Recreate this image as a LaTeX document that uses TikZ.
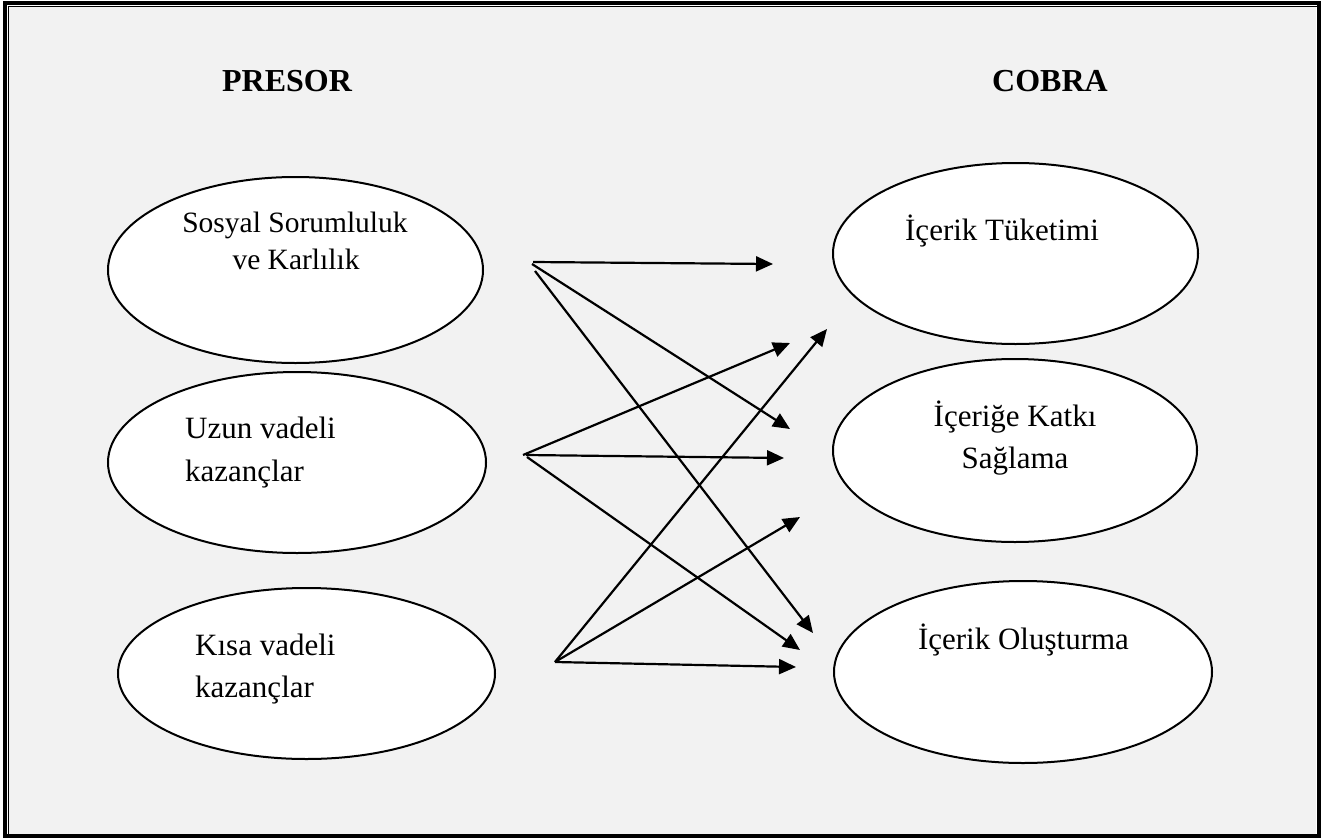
\documentclass[tikz,border=0pt]{standalone}
\usepackage{fontspec}
\setmainfont{Liberation Serif}
\usetikzlibrary{shapes.geometric,arrows.meta}
\definecolor{panelgray}{HTML}{F2F2F2}
\tikzset{
  oval/.style={ellipse,draw=black,line width=2pt,fill=white,inner sep=0pt},
  txt/.style={inner sep=0pt,font=\fontsize{31}{36}\selectfont},
  txtsmall/.style={inner sep=0pt,font=\fontsize{29.5}{34}\selectfont},
  ttl/.style={inner sep=0pt,font=\fontsize{32}{38}\selectfont\bfseries},
  conn/.style={line width=2.2pt,-{Triangle[length=17pt,width=15pt]}}
}
\begin{document}
\begin{tikzpicture}[x=1pt,y=-1pt]
\useasboundingbox (0,0) rectangle (1339,838);
% frame
\fill[white] (0,0) rectangle (1339,838);
\fill[panelgray] (9,7) rectangle (1316,834);
\draw[line width=3.4pt] (5,1.3) -- (5,837.8);
\draw[line width=3.4pt] (3.3,3) -- (1320.5,3);
\draw[line width=4pt] (1318.5,1.3) -- (1318.5,837.8);
\draw[line width=3.4pt] (3.3,836) -- (1320.5,836);
\draw[line width=1.5pt] (8.3,6) -- (8.3,834.3);
\draw[line width=1.5pt] (7.6,6.3) -- (1316.5,6.3);
% titles
\node[ttl,anchor=base] (presor) at (287,91) {PRESOR};
\node[ttl,anchor=base] (cobra) at (1050,91) {COBRA};
% ellipses
\node[oval,minimum width=375pt,minimum height=186pt] (L1) at (295.5,270) {};
\node[oval,minimum width=378pt,minimum height=181pt] (L2) at (297,462.5) {};
\node[oval,minimum width=377pt,minimum height=171pt] (L3) at (306.5,673.5) {};
\node[oval,minimum width=365pt,minimum height=181pt] (R1) at (1015.5,253.5) {};
\node[oval,minimum width=364pt,minimum height=183pt] (R2) at (1015,450.5) {};
\node[oval,minimum width=378pt,minimum height=182pt] (R3) at (1023,672) {};
% texts
\node[txtsmall,anchor=base] (l1a) at (295,232) {Sosyal Sorumluluk};
\node[txtsmall,anchor=base] (l1b) at (296,269) {ve Karlılık};
\node[txt,anchor=base west] (l2a) at (185,438) {Uzun vadeli};
\node[txt,anchor=base west] (l2b) at (185,481) {kazançlar};
\node[txt,anchor=base west] (l3a) at (195,655) {Kısa vadeli};
\node[txt,anchor=base west] (l3b) at (195,697) {kazançlar};
\node[txt,anchor=base] (r1a) at (1002,240) {İçerik Tüketimi};
\node[txt,anchor=base] (r2a) at (1015,426) {İçeriğe Katkı};
\node[txt,anchor=base] (r2b) at (1015,468) {Sağlama};
\node[txt,anchor=base] (r3a) at (1023.5,649) {İçerik Oluşturma};
% connector end points
\coordinate (s1a) at (533,262);
\coordinate (s1b) at (532,264);
\coordinate (s1c) at (535,271);
\coordinate (s2a) at (523,455);
\coordinate (s2b) at (526,455);
\coordinate (s2c) at (527,457);
\coordinate (s3) at (555,662);
\coordinate (e11) at (773,264);
\coordinate (e12) at (790,429);
\coordinate (e13) at (813,633);
\coordinate (e21) at (790,343);
\coordinate (e22) at (784,458);
\coordinate (e23) at (800,650);
\coordinate (e31) at (827,329);
\coordinate (e32) at (800,517);
\coordinate (e33) at (796,667);
% connectors
\draw[conn] (s1a) -- (e11);
\draw[conn] (s1b) -- (e12);
\draw[conn] (s1c) -- (e13);
\draw[conn] (s2a) -- (e21);
\draw[conn] (s2b) -- (e22);
\draw[conn] (s2c) -- (e23);
\draw[conn] (s3) -- (e31);
\draw[conn] (s3) -- (e32);
\draw[conn] (s3) -- (e33);
\end{tikzpicture}
\end{document}
